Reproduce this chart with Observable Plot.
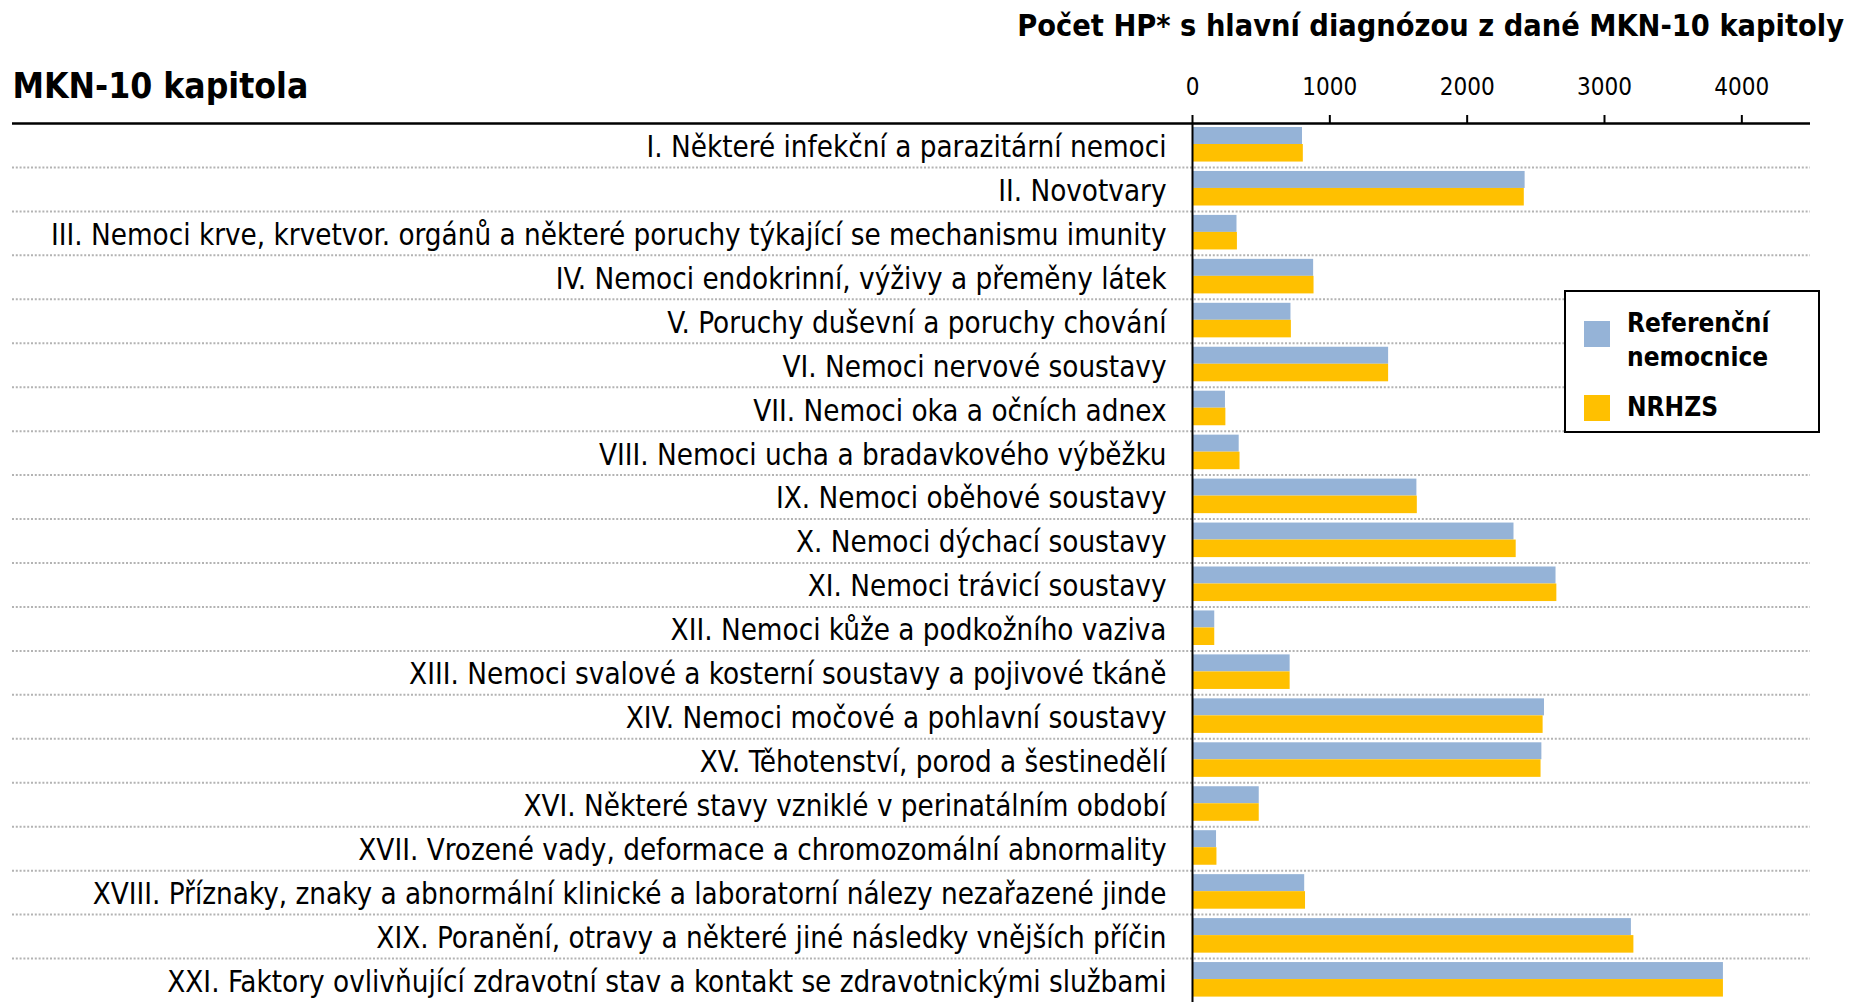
<!DOCTYPE html>
<html>
<head>
<meta charset="utf-8">
<script src="https://cdn.jsdelivr.net/npm/d3@7"></script>
<script src="https://cdn.jsdelivr.net/npm/@observablehq/plot@0.6"></script>
<style>
  html, body { margin: 0; padding: 0; background: #fff; overflow: hidden; }
  #wrap { position: relative; width: 1851px; height: 1002px; font-family: "Liberation Sans Narrow", "Arial Narrow", "DejaVu Sans Condensed", "Liberation Sans", sans-serif; }
  #title { position: absolute; right: 7px; top: 4px; font-weight: bold; font-size: 30.4px; line-height: 44px; color: #000; white-space: nowrap; }
  #chart { position: absolute; left: 0; top: 52px; }
  #legend { position: absolute; left: 1564px; top: 290px; width: 252px; height: 139px; border: 2px solid #000; background: #fff; }
  .sw { position: absolute; left: 18px; width: 26px; height: 26px; }
  .lt { position: absolute; left: 61px; font-weight: bold; font-size: 26px; line-height: 34px; color: #000; white-space: nowrap; }
</style>
</head>
<body>
<div id="wrap">
  <div id="title"></div>
  <div id="chart"></div>
  <div id="legend"></div>
</div>
<script>
const categories = [
  "I. Některé infekční a parazitární nemoci",
  "II. Novotvary",
  "III. Nemoci krve, krvetvor. orgánů a některé poruchy týkající se mechanismu imunity",
  "IV. Nemoci endokrinní, výživy a přeměny látek",
  "V. Poruchy duševní a poruchy chování",
  "VI. Nemoci nervové soustavy",
  "VII. Nemoci oka a očních adnex",
  "VIII. Nemoci ucha a bradavkového výběžku",
  "IX. Nemoci oběhové soustavy",
  "X. Nemoci dýchací soustavy",
  "XI. Nemoci trávicí soustavy",
  "XII. Nemoci kůže a podkožního vaziva",
  "XIII. Nemoci svalové a kosterní soustavy a pojivové tkáně",
  "XIV. Nemoci močové a pohlavní soustavy",
  "XV. Těhotenství, porod a šestinedělí",
  "XVI. Některé stavy vzniklé v perinatálním období",
  "XVII. Vrozené vady, deformace a chromozomální abnormality",
  "XVIII. Příznaky, znaky a abnormální klinické a laboratorní nálezy nezařazené jinde",
  "XIX. Poranění, otravy a některé jiné následky vnějších příčin",
  "XXI. Faktory ovlivňující zdravotní stav a kontakt se zdravotnickými službami"
];
const refValues   = [801, 2422, 324, 882, 717, 1428, 240, 340, 1634, 2341, 2647, 162, 711, 2563, 2544, 486, 175, 817, 3196, 3866];
const nrhzsValues = [807, 2416, 327, 885, 720, 1428, 243, 346, 1637, 2357, 2653, 162, 711, 2553, 2538, 486, 178, 823, 3214, 3866];
const seriesNames = ["Referenční nemocnice", "NRHZS"];
const xTicks = [0, 1000, 2000, 3000, 4000];
const titleText = "Počet HP* s hlavní diagnózou z dané MKN-10 kapitoly";
const yTitle = "MKN-10 kapitola";

const colors = ["#95B3D7", "#FFC000"];
const FONT = '"Liberation Sans Narrow", "Arial Narrow", "DejaVu Sans Condensed", "Liberation Sans", sans-serif';

const refData = categories.map((c, i) => ({category: c, value: refValues[i], series: seriesNames[0]}));
const nrData = categories.map((c, i) => ({category: c, value: nrhzsValues[i], series: seriesNames[1]}));

const W = 1851, H = 950, MT = 71, ML = 12, MR = 41, MB = 0;
const bw = (H - MT - MB) / categories.length;

const chart = Plot.plot({
  width: W, height: H,
  marginTop: MT, marginLeft: ML, marginRight: MR, marginBottom: MB,
  style: {fontFamily: FONT, background: "white", color: "#000", overflow: "visible"},
  x: {domain: [0, 4500], insetLeft: 1180, label: null},
  y: {domain: categories, padding: 0, round: false, axis: null, label: null},
  marks: [
    Plot.ruleY(categories.slice(1), {y: d => d, dy: -bw / 2, stroke: "#b3b3b3", strokeWidth: 2, strokeDasharray: "2,1.8"}),
    Plot.barX(refData, {x: "value", y: "category", fill: colors[0], insetTop: 4, insetBottom: bw - 21}),
    Plot.barX(nrData, {x: "value", y: "category", fill: colors[1], insetTop: 21, insetBottom: 5.4}),
    Plot.ruleX([0], {stroke: "#000", strokeWidth: 2}),
    Plot.ruleY([categories[0]], {y: d => d, dy: -bw / 2, stroke: "#000", strokeWidth: 2.5}),
    Plot.axisX(xTicks, {anchor: "top", label: null, tickSize: 9, tickPadding: 20, strokeWidth: 2, fontSize: 24, tickFormat: d => String(d)}),
    Plot.text(categories, {x: () => 0, y: d => d, text: d => d, textAnchor: "end", dx: -26, dy: 2, fontSize: 29.3, fill: "#000"}),
    Plot.text([yTitle], {frameAnchor: "top-left", text: d => d, textAnchor: "start", lineAnchor: "middle", dy: -37, fontSize: 35.2, fontWeight: "bold", fill: "#000"})
  ]
});
document.getElementById("chart").appendChild(chart);
document.getElementById("title").textContent = titleText;

const legend = document.getElementById("legend");
const items = [
  {name: seriesNames[0], color: colors[0], swTop: 29, lines: ["Referenční", "nemocnice"], textTop: 14},
  {name: seriesNames[1], color: colors[1], swTop: 103, lines: ["NRHZS"], textTop: 98}
];
items.forEach(it => {
  const s = document.createElement("div");
  s.className = "sw"; s.style.top = it.swTop + "px"; s.style.background = it.color;
  legend.appendChild(s);
  const t = document.createElement("div");
  t.className = "lt"; t.style.top = it.textTop + "px";
  t.innerHTML = it.lines.join("<br>");
  legend.appendChild(t);
});
</script>
</body>
</html>
